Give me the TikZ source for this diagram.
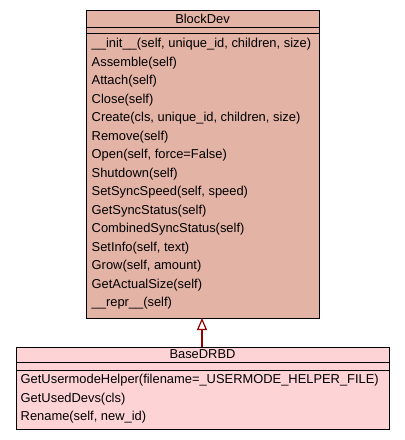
\documentclass[tikz,border=0pt]{standalone}
\usepackage{fontspec}
\setmainfont{Liberation Sans}
\usetikzlibrary{arrows.meta}
\definecolor{blockfill}{RGB}{227,179,166}
\definecolor{basefill}{RGB}{254,211,214}
\definecolor{inhcol}{RGB}{150,0,0}
\tikzset{
  x=1pt, y=-1pt,
  classbox/.style={draw=black, line width=1pt, anchor=north west, inner sep=0pt, outer sep=0pt},
  sepline/.style={draw=black, line width=1pt},
  member/.style={anchor=west, inner sep=0pt, font=\fontsize{12.9}{14}\selectfont},
  ctitle/.style={anchor=center, inner sep=0pt, font=\fontsize{12.9}{14}\selectfont},
  inherit/.style={draw=inhcol, line width=1.6pt, -{Triangle[open, width=10pt, length=12pt, line width=1.2pt]}}
}
\begin{document}
\begin{tikzpicture}
\useasboundingbox[fill=white] (0,0) rectangle (405,440);
% BlockDev
\node[classbox, fill=blockfill, minimum width=233pt, minimum height=308pt] (blockdev) at (86,10) {};
\draw[sepline] (86,27) coordinate (bs1) -- (319,27);
\draw[sepline] (86,33) coordinate (bs2) -- (319,33);
\node[ctitle] (bdtitle) at (202.5,18.5) {BlockDev};
\foreach \t [count=\i from 0] in {%
  {\_\_init\_\_(self, unique\_id, children, size)},
  {Assemble(self)},
  {Attach(self)},
  {Close(self)},
  {Create(cls, unique\_id, children, size)},
  {Remove(self)},
  {Open(self, force=False)},
  {Shutdown(self)},
  {SetSyncSpeed(self, speed)},
  {GetSyncStatus(self)},
  {CombinedSyncStatus(self)},
  {SetInfo(self, text)},
  {Grow(self, amount)},
  {GetActualSize(self)},
  {\_\_repr\_\_(self)}}
  \node[member] (bm\i) at (91.5, 44.5+18.5*\i) {\t};
% BaseDRBD
\node[classbox, fill=basefill, minimum width=373pt, minimum height=82pt] (basedrbd) at (16,347) {};
\draw[sepline] (16,362) -- (389,362);
\draw[sepline] (16,370) -- (389,370);
\node[ctitle] (bbtitle) at (202.5,354) {BaseDRBD};
\node[member] (dm0) at (20.5,380.5) {GetUsermodeHelper(filename=\_USERMODE\_HELPER\_FILE)};
\node[member] (dm1) at (20.5,399) {GetUsedDevs(cls)};
\node[member] (dm2) at (20.5,417.5) {Rename(self, new\_id)};
% inheritance
\draw[inherit] (basedrbd.north -| 202,0) -- (blockdev.south -| 202,0);
\end{tikzpicture}
\end{document}
